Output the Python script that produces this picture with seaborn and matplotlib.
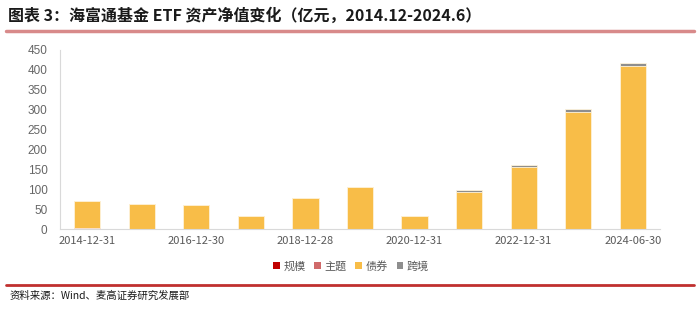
import matplotlib
matplotlib.use("Agg")
import matplotlib.pyplot as plt
from matplotlib.lines import Line2D
from matplotlib.patches import Patch
import numpy as np
import pandas as pd
import seaborn as sns

categories = ['2014-12-31', '2015-12-31', '2016-12-30', '2017-12-29', '2018-12-28',
              '2019-12-31', '2020-12-31', '2021-12-31', '2022-12-31', '2023-12-29',
              '2024-06-30']
guimo = [2, 0, 0, 0, 0, 0, 0, 0, 0, 0, 0]
zhuti = [0, 0, 0, 0, 0, 0, 0, 0, 0, 0, 0]
zhaiquan = [68, 63, 60, 33, 77, 105, 33, 93, 157, 294, 411]
kuajing = [0, 0, 0, 0, 0, 0, 0, 4, 5, 7, 7.5]
series_names = ['规模', '主题', '债券', '跨境']
colors = ['#C00000', '#D06A6A', '#F8BD48', '#8E8E8E']

sns.set_style('white')
plt.rcParams['font.family'] = ['Noto Sans CJK SC', 'DejaVu Sans']

fig = plt.figure(figsize=(7.0, 3.12), dpi=100)
ax = fig.add_axes([60/700, 1-229/312, 600/700, 179/312])

df = pd.DataFrame({'date': categories, '规模': guimo, '主题': zhuti,
                   '债券': zhaiquan, '跨境': kuajing})
cum = df[series_names].cumsum(axis=1)

# draw cumulative layers from the top down
for name, col in reversed(list(zip(series_names, colors))):
    sns.barplot(x=df['date'], y=cum[name], color=col, width=0.48, ax=ax,
                order=categories, saturation=1, edgecolor='#FFF4DC', linewidth=0.6)

ax.set_ylim(0, 450)
ax.set_yticks(np.arange(0, 451, 50))
ax.set_xlim(-0.5, len(categories) - 0.5)
ax.set_xlabel('')
ax.set_ylabel('')

ax.set_xticks(range(len(categories)))
ax.set_xticklabels([c if i % 2 == 0 else '' for i, c in enumerate(categories)])
ax.set_xticks(np.arange(-0.5, len(categories), 1.0), minor=True)
ax.tick_params(axis='x', which='major', length=0, pad=5, labelsize=8, labelcolor='#595959')
ax.tick_params(axis='x', which='minor', length=4, color='#D9D9D9', width=0.8)
ax.tick_params(axis='y', length=0, pad=9, labelsize=8.5, labelcolor='#666666')
for lab in ax.get_yticklabels():
    lab.set_family(['Liberation Sans', 'DejaVu Sans'])

for s in ['top', 'right']:
    ax.spines[s].set_visible(False)
for s in ['left', 'bottom']:
    ax.spines[s].set_color('#D9D9D9')
    ax.spines[s].set_linewidth(0.8)

handles = [Patch(facecolor=c, edgecolor='none') for c in colors]
fig.legend(handles, series_names, loc='center', bbox_to_anchor=(351/700, 1-266/312),
           ncol=4, frameon=False, fontsize=8, handlelength=0.6, handleheight=0.6,
           handletextpad=0.3, columnspacing=0.8, labelcolor='#595959')

fig.text(8/700, 1-16/312, '图表 3：海富通基金 ETF 资产净值变化（亿元，2014.12-2024.6）',
         fontsize=11.5, fontweight='bold', color='#1A1A1A', va='center', ha='left')
fig.add_artist(Line2D([6/700, 694/700], [1-31/312, 1-31/312], color='#D88A8A',
                      linewidth=2.5, transform=fig.transFigure))
fig.add_artist(Line2D([6/700, 694/700], [1-285/312, 1-285/312], color='#C0302F',
                      linewidth=2, transform=fig.transFigure))
fig.text(10/700, 1-296/312, '资料来源：Wind、麦高证券研究发展部', fontsize=7.5,
         color='#1A1A1A', va='center', ha='left')

fig.savefig('out.png', dpi=100)
